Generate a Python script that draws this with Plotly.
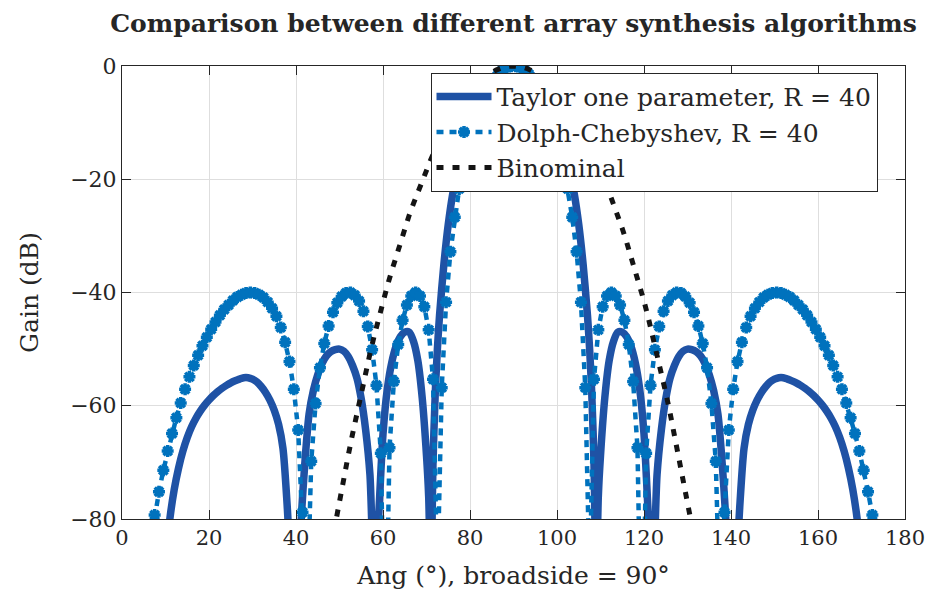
import plotly.graph_objects as go

# ---------------- data ----------------
taylor_angle = [9, 10, 11, 12, 13, 14, 15, 16, 17, 18, 19, 20, 21, 22, 23, 24, 25, 26, 27, 28, 29, 30,
                31, 32, 33, 34, 35, 36, 37, 38, 39, 40, 41, 42, 43, 44, 45, 46, 47, 48, 49, 50,
                51, 52, 53, 54, 55, 56, 57, 58, 59, 60, 61, 62, 63, 64, 65, 66, 67, 68, 69, 70,
                70.5, 71, 71.5, 72, 72.5, 73, 74, 75, 76, 77, 78, 79, 80, 81, 82, 83, 84, 85, 86,
                87, 88, 89, 90,
                91, 92, 93, 94, 95, 96, 97, 98, 99, 100, 101, 102, 103, 104, 105, 106, 107, 107.5,
                108, 108.5, 109, 109.5, 110, 111, 112, 113, 114, 115, 116, 117, 118, 119, 120, 121,
                122, 123, 124, 125, 126, 127, 128, 129, 130, 131, 132, 133, 134, 135, 136, 137, 138,
                139, 140, 141, 142, 143, 144, 145, 146, 147, 148, 149, 150, 151, 152, 153, 154, 155,
                156, 157, 158, 159, 160, 161, 162, 163, 164, 165, 166, 167, 168, 169, 170, 171]
taylor_gain = [-100, -88, -80.0, -74.8, -71.0, -68.0, -65.6, -63.7, -62.2, -60.95, -59.9, -59.0, -58.2,
               -57.5, -56.9, -56.4, -55.95, -55.6, -55.3, -55.05, -55.05, -55.3, -55.8, -56.6,
               -57.65, -59.0, -60.8, -63.3, -67.5, -78.0, -92, -105, -83, -70.5, -61.5, -57.3, -54.5,
               -52.5, -51.2, -50.45, -50.1, -50.0, -50.35, -51.3, -52.9, -55.1, -58.8, -64.2, -72.2,
               -92, -79.5, -65.0, -57.0, -52.4, -49.5, -47.8, -47.0, -47.0, -48.6, -52.0, -58.5,
               -68.8, -76, -92, -70, -58, -50, -44, -35, -28, -22.7, -18.9, -15.5, -12.6, -10.2,
               -8.05, -6.3, -4.8, -3.45, -2.35, -1.5, -0.85, -0.35, -0.1, 0.0,
               -0.1, -0.35, -0.85, -1.5, -2.35, -3.45, -4.8, -6.3, -8.05, -10.2, -12.6, -15.5, -18.9,
               -22.7, -28, -35, -44, -50, -58, -70, -92, -76, -68.8, -58.5, -52.0, -48.6, -47.0,
               -47.0, -47.8, -49.5, -52.4, -57.0, -65.0, -79.5, -92, -72.2, -64.2, -58.8, -55.1,
               -52.9, -51.3, -50.35, -50.0, -50.1, -50.45, -51.2, -52.5, -54.5, -57.3, -61.5, -70.5,
               -83, -105, -92, -78.0, -67.5, -63.3, -60.8, -59.0, -57.65, -56.6, -55.8, -55.3,
               -55.05, -55.05, -55.3, -55.6, -55.95, -56.4, -56.9, -57.5, -58.2, -59.0, -59.9,
               -60.95, -62.2, -63.7, -65.6, -68.0, -71.0, -74.8, -80.0, -88, -100]

dolph_angle = [6.5, 7.5, 8.5, 9.5, 10.5, 11.5, 12.5, 13.5, 14.5, 15.5, 16.5, 17.5, 18.5, 19.5, 20.5,
               21.5, 22.5, 23.5, 24.5, 25.5, 26.5, 27.5, 28.5, 29.5, 30.5, 31.5, 32.5, 33.5, 34.5,
               35.5, 36.5, 37.5, 38.5, 39.5, 40.5, 41.5, 42.5, 43.5, 44.5, 45.5, 46.5, 47.5, 48.5,
               49.5, 50.5, 51.5, 52.5, 53.5, 54.5, 55.5, 56.5, 57.5, 58.5, 59.5, 60.5, 61.5, 62.5,
               63.5, 64.5, 65.5, 66.5, 67.5, 68.5, 69.5, 70.5, 71.5, 72.5, 73.5, 74.5, 75.5, 76.5,
               77.5, 78.5, 79.5, 80.5, 81.5, 82.5, 83.5, 84.5, 85.5, 86.5, 87.5, 88.5, 89.5,
               90.5, 91.5, 92.5, 93.5, 94.5, 95.5, 96.5, 97.5, 98.5, 99.5, 100.5, 101.5, 102.5,
               103.5, 104.5, 105.5, 106.5, 107.5, 108.5, 109.5, 110.5, 111.5, 112.5, 113.5, 114.5,
               115.5, 116.5, 117.5, 118.5, 119.5, 120.5, 121.5, 122.5, 123.5, 124.5, 125.5, 126.5,
               127.5, 128.5, 129.5, 130.5, 131.5, 132.5, 133.5, 134.5, 135.5, 136.5, 137.5, 138.5,
               139.5, 140.5, 141.5, 142.5, 143.5, 144.5, 145.5, 146.5, 147.5, 148.5, 149.5, 150.5,
               151.5, 152.5, 153.5, 154.5, 155.5, 156.5, 157.5, 158.5, 159.5, 160.5, 161.5, 162.5,
               163.5, 164.5, 165.5, 166.5, 167.5, 168.5, 169.5, 170.5, 171.5, 172.5, 173.5]
dolph_gain = [-84.5, -79.3, -75.2, -71.4, -68.0, -64.9, -62.1, -59.5, -57.1, -54.9, -52.9, -51.1,
              -49.4, -47.9, -46.5, -45.2, -44.0, -43.0, -42.2, -41.4, -40.8, -40.4, -40.1, -40.0,
              -40.1, -40.4, -40.9, -41.7, -42.8, -44.2, -46.2, -48.8, -52.2, -57.1, -64.3, -78.8,
              -98.3, -69.8, -59.6, -53.3, -49.0, -45.9, -43.5, -41.8, -40.7, -40.1, -40.0, -40.5,
              -41.5, -43.3, -46.0, -50.1, -56.4, -68.4, -110.0, -67.4, -55.7, -49.2, -44.9, -42.2,
              -40.6, -40.0, -40.6, -42.5, -46.6, -55.3, -91.1, -56.8, -41.7, -32.8, -26.7, -21.7,
              -17.7, -14.1, -11.2, -8.7, -6.7, -5.0, -3.5, -2.3, -1.4, -0.7, -0.25, -0.03,
              -0.03, -0.25, -0.7, -1.4, -2.3, -3.5, -5.0, -6.7, -8.7, -11.2, -14.1, -17.7, -21.7,
              -26.7, -32.8, -41.7, -56.8, -91.1, -55.3, -46.6, -42.5, -40.6, -40.0, -40.6, -42.2,
              -44.9, -49.2, -55.7, -67.4, -110.0, -68.4, -56.4, -50.1, -46.0, -43.3, -41.5, -40.5,
              -40.0, -40.1, -40.7, -41.8, -43.5, -45.9, -49.0, -53.3, -59.6, -69.8, -98.3, -78.8,
              -64.3, -57.1, -52.2, -48.8, -46.2, -44.2, -42.8, -41.7, -40.9, -40.4, -40.1, -40.0,
              -40.1, -40.4, -40.8, -41.4, -42.2, -43.0, -44.0, -45.2, -46.5, -47.9, -49.4, -51.1,
              -52.9, -54.9, -57.1, -59.5, -62.1, -64.9, -68.0, -71.4, -75.2, -79.3, -84.5]

binom_angle = [48, 49, 50, 51, 52, 53, 54, 55, 56, 57, 58, 59, 60, 61, 62, 63, 64, 65, 66, 67, 68,
               69, 70, 71, 72, 73, 74, 75, 76, 77, 78, 79, 80, 81, 82, 83, 84, 85, 86, 87, 88, 89,
               90, 91, 92, 93, 94, 95, 96, 97, 98, 99, 100, 101, 102, 103, 104, 105, 106, 107, 108,
               109, 110, 111, 112, 113, 114, 115, 116, 117, 118, 119, 120, 121, 122, 123, 124, 125,
               126, 127, 128, 129, 130, 131, 132]
binom_gain = [-85.1, -80.8, -76.7, -72.7, -68.8, -65.0, -61.3, -57.7, -54.2, -50.8, -47.6, -44.5,
              -41.5, -38.8, -36.2, -33.6, -31.1, -28.7, -26.4, -24.3, -22.2, -20.2, -18.3, -16.5,
              -14.8, -13.2, -11.7, -10.2, -8.9, -7.7, -6.55, -5.5, -4.55, -3.7, -2.9, -2.2, -1.65,
              -1.13, -0.72, -0.4, -0.18, -0.05, 0.0, -0.05, -0.18, -0.4, -0.72, -1.13, -1.65, -2.2,
              -2.9, -3.7, -4.55, -5.5, -6.55, -7.7, -8.9, -10.2, -11.7, -13.2, -14.8, -16.5, -18.3,
              -20.2, -22.2, -24.3, -26.4, -28.7, -31.1, -33.6, -36.2, -38.8, -41.5, -44.5, -47.6,
              -50.8, -54.2, -57.7, -61.3, -65.0, -68.8, -72.7, -76.7, -80.8, -85.1]

x_ticks = [0, 20, 40, 60, 80, 100, 120, 140, 160, 180]
y_ticks = [-80, -60, -40, -20, 0]

names = ["Taylor one parameter, R = 40", "Dolph-Chebyshev, R = 40", "Binominal"]

# ---------------- styles ----------------
FONT = "DejaVu Serif"
AX = "#262626"
C_TAYLOR = "#1F52A5"
C_DOLPH = "#0072BD"
C_BINOM = "#141414"

fig = go.Figure()
fig.add_trace(go.Scatter(x=taylor_angle, y=taylor_gain, mode="lines", name=names[0],
                         legendgroup="a",
                         line=dict(color=C_TAYLOR, width=7.5, shape="spline", smoothing=0.8)))
fig.add_trace(go.Scatter(x=dolph_angle, y=dolph_gain, mode="lines+markers", name=names[1],
                         legendgroup="b",
                         line=dict(color=C_DOLPH, width=4.5, dash="7px,6px"),
                         marker=dict(symbol="asterisk-open", size=10, color=C_DOLPH,
                                     line=dict(width=3.5, color=C_DOLPH))))
fig.add_trace(go.Scatter(x=binom_angle, y=binom_gain, mode="lines", name=names[2],
                         legendgroup="c",
                         line=dict(color=C_BINOM, width=5, dash="7px,9px")))

fig.update_layout(
    width=937, height=597,
    margin=dict(l=122, r=24, t=66, b=78),
    paper_bgcolor="white", plot_bgcolor="white",
    font=dict(family=FONT, size=21, color=AX),
    title=dict(text="<b>Comparison between different array synthesis algorithms</b>",
               x=0.5, xref="paper", xanchor="center",
               y=1 - 23 / 597, yref="container", yanchor="middle",
               font=dict(family=FONT, size=25, color=AX)),
    showlegend=True,
    legend=dict(x=0.394, y=0.985, xanchor="left", yanchor="top",
                bgcolor="white", bordercolor=AX, borderwidth=1,
                font=dict(family=FONT, size=25, color=AX),
                itemwidth=55, tracegroupgap=0,
                entrywidthmode="pixels", entrywidth=440),
)
fig.update_xaxes(range=[0, 180], tickmode="array", tickvals=x_ticks,
                 showline=True, linecolor=AX, linewidth=1, mirror="ticks",
                 ticks="inside", ticklen=9, tickcolor=AX,
                 showgrid=True, gridcolor="#dedede", gridwidth=1, zeroline=False,
                 title=dict(text="Ang (°), broadside = 90°", standoff=17,
                            font=dict(family=FONT, size=25, color=AX)),
                 tickfont=dict(family=FONT, size=21, color=AX))
fig.update_yaxes(range=[-80, 0], tickmode="array", tickvals=y_ticks,
                 showline=True, linecolor=AX, linewidth=1, mirror="ticks",
                 ticks="inside", ticklen=9, tickcolor=AX,
                 showgrid=True, gridcolor="#dedede", gridwidth=1, zeroline=False,
                 title=dict(text="Gain (dB)", standoff=24,
                            font=dict(family=FONT, size=25, color=AX)),
                 tickfont=dict(family=FONT, size=22, color=AX))

fig.write_html("out.html")
